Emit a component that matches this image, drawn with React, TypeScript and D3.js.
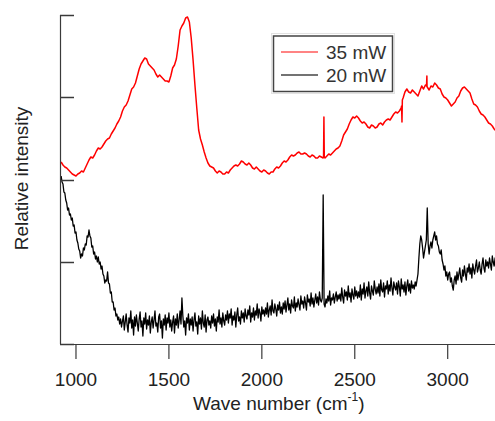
import React from 'react';
import * as d3 from 'd3';

// Axis ticks
const xTicks = [1000, 1500, 2000, 2500, 3000];
const yTicks = [0, 82.25, 164.5, 246.75, 329];

// 35 mW spectrum (red), sampled every 10 cm-1 starting at 920
const redStart = 920;
const redStep = 10;
const red35 = [
  182, 179, 177, 176, 174, 172, 170, 169, 168, 170,
  171, 173, 172, 176, 180, 184, 187, 186, 189, 193,
  196, 195, 197, 200, 203, 205, 206, 210, 213, 216,
  220, 223, 227, 233, 237, 239, 243, 249, 255, 257,
  261, 268, 275, 280, 283, 286, 285, 280, 278, 276,
  274, 270, 267, 269, 267, 265, 263, 263, 262, 268,
  276, 279, 285, 298, 314, 318, 321, 326, 327, 322,
  306, 284, 259, 236, 214, 205, 199, 192, 186, 181,
  178, 177, 176, 173, 171, 173, 172, 170, 170, 172,
  171, 174, 176, 178, 179, 178, 180, 183, 182, 180,
  179, 181, 179, 176, 175, 177, 175, 173, 172, 174,
  173, 171, 170, 172, 172, 175, 177, 176, 178, 181,
  183, 182, 184, 187, 189, 188, 189, 191, 192, 190,
  190, 191, 190, 188, 187, 189, 188, 186, 186, 188,
  187, 186, 186, 188, 190, 189, 191, 193, 195, 196,
  198, 203, 209, 212, 215, 220, 224, 227, 226, 228,
  226, 223, 221, 222, 220, 217, 216, 219, 218, 216,
  217, 220, 221, 219, 222, 224, 225, 224, 227, 230,
  232, 231, 233, 236, 246, 252, 255, 252, 251, 254,
  252, 250, 248, 253, 258, 255, 259, 257, 254, 258,
  257, 261, 259, 256, 255, 250, 247, 246, 244, 241,
  238, 240, 242, 246, 248, 253, 256, 257, 255, 253,
  251, 245, 240, 239, 237, 233, 230, 229, 227, 224,
  221, 220, 218, 215, 213,
];
// narrow spikes in the 35 mW spectrum
const redSpikeWn = [2332, 2334, 2336, 2752, 2754, 2756, 2886, 2888, 2889];
const redSpikeVal = [187, 227, 187, 238, 222, 244, 258, 268, 257];

// 20 mW spectrum (black), sampled every 5 cm-1 starting at 920
const blackStart = 920;
const blackStep = 5;
const black20 = [
  168, 162, 160, 152, 151, 144, 141, 134, 136, 129, 130, 124, 126, 118, 119, 111, 112, 104, 101, 95,
  93, 86, 90, 88, 96, 94, 100, 99, 108, 107, 114, 108, 106, 97, 98, 90, 92, 85, 88, 82,
  87, 80, 82, 75, 78, 70, 68, 61, 64, 63, 72, 61, 60, 51, 52, 42, 42, 34, 36, 28,
  30, 24, 27, 20, 25, 17, 23, 28, 14, 22, 30, 19, 12, 26, 21, 33, 16, 24, 9, 27,
  18, 29, 21, 13, 25, 32, 17, 23, 8, 26, 20, 31, 15, 24, 19, 28, 11, 22, 27, 16,
  24, 33, 18, 21, 12, 27, 30, 16, 23, 6, 25, 19, 29, 14, 26, 21, 31, 17, 24, 13,
  22, 28, 11, 25, 19, 30, 16, 24, 33, 20, 46, 28, 17, 23, 9, 26, 21, 30, 14, 25,
  19, 27, 13, 24, 31, 18, 22, 10, 28, 20, 26, 15, 33, 21, 17, 29, 12, 24, 27, 19,
  23, 16, 28, 21, 30, 18, 25, 13, 27, 22, 34, 20, 26, 17, 31, 23, 19, 29, 24, 33,
  21, 30, 26, 35, 19, 28, 24, 32, 17, 29, 36, 23, 27, 20, 33, 26, 31, 22, 35, 28,
  25, 34, 29, 38, 22, 31, 27, 36, 24, 33, 29, 40, 26, 35, 31, 23, 37, 30, 34, 28,
  36, 30, 41, 27, 34, 38, 29, 44, 33, 31, 40, 35, 28, 39, 34, 42, 31, 37, 30, 41,
  35, 43, 32, 39, 46, 34, 40, 31, 44, 38, 36, 47, 33, 41, 37, 45, 39, 34, 48, 40,
  43, 36, 47, 41, 34, 49, 42, 45, 38, 51, 40, 46, 37, 44, 50, 41, 47, 39, 52, 44,
  42, 46, 149, 40, 37, 45, 41, 48, 43, 53, 39, 46, 44, 50, 41, 47, 52, 43, 49, 45,
  50, 43, 56, 47, 41, 54, 48, 52, 44, 58, 47, 51, 42, 55, 49, 45, 57, 48, 53, 46,
  52, 47, 59, 44, 55, 50, 61, 46, 53, 57, 48, 62, 51, 45, 58, 53, 49, 63, 55, 50,
  57, 51, 60, 48, 64, 54, 52, 61, 47, 58, 55, 63, 50, 59, 53, 66, 56, 49, 62, 57,
  54, 61, 50, 63, 57, 48, 65, 55, 59, 52, 62, 49, 58, 64, 53, 60, 51, 63, 56, 59,
  55, 62, 58, 64, 70, 86, 100, 108, 104, 96, 86, 92, 98, 104, 136, 100, 90, 98, 102, 96,
  104, 108, 112, 104, 108, 100, 98, 92, 90, 94, 84, 80, 74, 78, 68, 72, 64, 70, 72, 62,
  66, 58, 54, 64, 68, 60, 72, 64, 70, 76, 66, 62, 74, 68, 78, 70, 64, 76, 72, 80,
  70, 76, 66, 80, 74, 70, 78, 84, 72, 76, 82, 74, 70, 80, 86, 76, 72, 84, 78, 82,
  76, 86, 80, 74, 88, 82, 78, 86, 84,
];

const seriesNames = ['35 mW', '20 mW'];
const seriesColors = ['#ff0000', '#000000'];

const W = 495;
const H = 421;
const left = 60;
const right = 495;
const top = 15;
const bottom = 344;
const FONT = 'Liberation Sans, Arial, Helvetica, sans-serif';

export default function App() {
  const x = d3.scaleLinear().domain([914, 3254.5]).range([left, right]);
  const y = d3.scaleLinear().domain([0, 329]).range([bottom, top]);

  const redPts: [number, number][] = red35.map((v, i) => [redStart + i * redStep, v] as [number, number]);
  redSpikeWn.forEach((w, i) => redPts.push([w, redSpikeVal[i]]));
  redPts.sort((a, b) => a[0] - b[0]);
  const blackPts: [number, number][] = black20.map((v, i) => [blackStart + i * blackStep, v] as [number, number]);

  const line = d3
    .line<[number, number]>()
    .x((d) => x(d[0]))
    .y((d) => y(d[1]));

  const axisColor = '#3a3a3a';
  const textColor = '#222';

  return (
    <svg
      width={W}
      height={H}
      style={{ position: 'absolute', left: 0, top: 0, background: '#fff' }}
      fontFamily={FONT}
    >
      <defs>
        <clipPath id="plotClip">
          <rect x={left} y={0} width={right - left} height={bottom} />
        </clipPath>
      </defs>
      <rect x={0} y={0} width={W} height={H} fill="#fff" />
      <g clipPath="url(#plotClip)">
        <path d={line(redPts) || ''} fill="none" stroke={seriesColors[0]} strokeWidth={1.5} strokeLinejoin="round" />
        <path d={line(blackPts) || ''} fill="none" stroke={seriesColors[1]} strokeWidth={1.3} strokeLinejoin="round" />
      </g>

      {/* y axis */}
      <line x1={left + 0.5} x2={left + 0.5} y1={y(329)} y2={bottom} stroke={axisColor} strokeWidth={1.2} />
      {yTicks.map((t) => (
        <line
          key={t}
          x1={left}
          x2={left + 14}
          y1={Math.round(y(t)) + 0.5}
          y2={Math.round(y(t)) + 0.5}
          stroke={axisColor}
          strokeWidth={1.5}
        />
      ))}

      {/* x axis */}
      <line x1={left} x2={right} y1={bottom + 0.5} y2={bottom + 0.5} stroke={axisColor} strokeWidth={1.2} />
      {xTicks.map((t) => (
        <g key={t}>
          <line x1={x(t)} x2={x(t)} y1={bottom} y2={bottom + 15} stroke={axisColor} strokeWidth={1.2} />
          <text x={x(t)} y={386} textAnchor="middle" fontSize={19} fill={textColor}>
            {t}
          </text>
        </g>
      ))}

      {/* axis titles */}
      <text x={193} y={410} fontSize={19} fill={textColor}>
        Wave number (cm
        <tspan dy={-9} fontSize={12}>-1</tspan>
        <tspan dy={9} fontSize={19}>)</tspan>
      </text>
      <text
        transform="translate(28,178.5) rotate(-90)"
        textAnchor="middle"
        fontSize={19}
        fill={textColor}
      >
        Relative intensity
      </text>

      {/* legend */}
      <rect x={271.5} y={33.5} width={123} height={60} fill="none" stroke="#e2e2e2" strokeWidth={1} />
      <rect x={273.5} y={36} width={119} height={55.5} fill="#fff" stroke="#444" strokeWidth={1.5} />
      {seriesNames.map((name, i) => (
        <g key={name}>
          <line
            x1={281}
            x2={318}
            y1={52 + i * 23}
            y2={52 + i * 23}
            stroke={i === 0 ? '#ff5a5a' : '#444'}
            strokeWidth={1.3}
          />
          <text x={326} y={59 + i * 23} fontSize={19} fill="#333">
            {name}
          </text>
        </g>
      ))}
    </svg>
  );
}
